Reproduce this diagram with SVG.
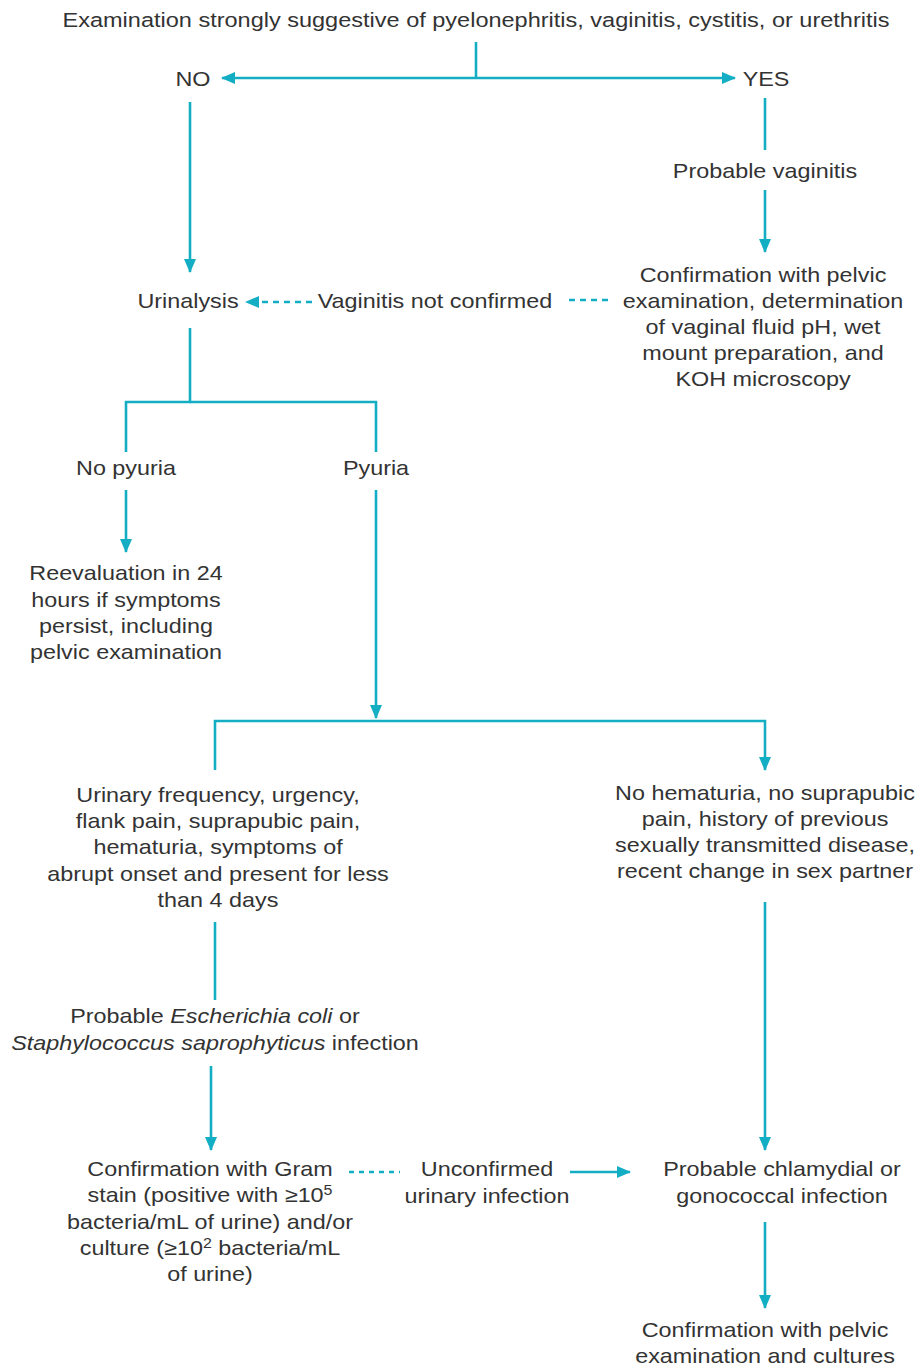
<svg xmlns="http://www.w3.org/2000/svg" width="921" height="1368" viewBox="0 0 921 1368">
<style>
.t{font-family:"Liberation Sans",Arial,Helvetica,sans-serif;font-size:20.5px;fill:#333333;text-anchor:middle}
.c{stroke:#14AEC4;stroke-width:2.6;fill:none}
.d{stroke-dasharray:6 5}
.o{stroke-dasharray:5 5}
</style>
<defs>
<marker id="ah" viewBox="0 0 14 12" refX="13" refY="6" markerWidth="14" markerHeight="12" markerUnits="userSpaceOnUse" orient="auto-start-reverse">
<path d="M0,0 L14,6 L0,12 Z" fill="#14AEC4"/>
</marker>
</defs>
<rect width="921" height="1368" fill="#ffffff"/>
<g id="connectors">
<line class="c" x1="476" y1="42" x2="476" y2="78"/>
<line class="c" x1="222" y1="78" x2="735" y2="78" marker-start="url(#ah)" marker-end="url(#ah)"/>
<line class="c" x1="190" y1="102" x2="190" y2="272" marker-end="url(#ah)"/>
<line class="c" x1="765" y1="98" x2="765" y2="150"/>
<line class="c" x1="765" y1="190" x2="765" y2="252" marker-end="url(#ah)"/>
<line class="c d" x1="608" y1="300" x2="568" y2="300"/>
<line class="c d" x1="312" y1="302" x2="246" y2="302" marker-end="url(#ah)"/>
<polyline class="c" points="190,328 190,402 126,402 126,452"/>
<polyline class="c" points="190,402 376,402 376,452"/>
<line class="c" x1="126" y1="490" x2="126" y2="552" marker-end="url(#ah)"/>
<line class="c" x1="376" y1="490" x2="376" y2="718" marker-end="url(#ah)"/>
<polyline class="c" points="215,770 215,721 765,721 765,770" marker-end="url(#ah)"/>
<line class="c" x1="215" y1="922" x2="215" y2="1000"/>
<line class="c" x1="211" y1="1066" x2="211" y2="1150" marker-end="url(#ah)"/>
<line class="c o" x1="349" y1="1172" x2="400" y2="1172"/>
<line class="c" x1="570" y1="1172" x2="630" y2="1172" marker-end="url(#ah)"/>
<line class="c" x1="765" y1="902" x2="765" y2="1150" marker-end="url(#ah)"/>
<line class="c" x1="765" y1="1222" x2="765" y2="1308" marker-end="url(#ah)"/>
</g>
<g id="title">
<text class="t" x="476" y="27" textLength="827" lengthAdjust="spacingAndGlyphs">Examination strongly suggestive of pyelonephritis, vaginitis, cystitis, or urethritis</text>
</g>
<g id="no" transform="translate(193 0) scale(1.14 1)"><text class="t" x="0" y="86">NO</text></g>
<g id="yes" transform="translate(766 0) scale(1.14 1)"><text class="t" x="0" y="86">YES</text></g>
<g id="probable-vaginitis" transform="translate(765 0) scale(1.14 1)"><text class="t" x="0" y="178">Probable vaginitis</text></g>
<g id="confirm-pelvic" transform="translate(763 0) scale(1.14 1)">
<text class="t" x="0" y="282">Confirmation with pelvic</text>
<text class="t" x="0" y="308">examination, determination</text>
<text class="t" x="0" y="334">of vaginal fluid pH, wet</text>
<text class="t" x="0" y="360">mount preparation, and</text>
<text class="t" x="0" y="386">KOH microscopy</text>
</g>
<g id="not-confirmed" transform="translate(435 0) scale(1.14 1)"><text class="t" x="0" y="308">Vaginitis not confirmed</text></g>
<g id="urinalysis" transform="translate(188 0) scale(1.14 1)"><text class="t" x="0" y="308">Urinalysis</text></g>
<g id="no-pyuria" transform="translate(126 0) scale(1.14 1)"><text class="t" x="0" y="475">No pyuria</text></g>
<g id="pyuria" transform="translate(376 0) scale(1.14 1)"><text class="t" x="0" y="475">Pyuria</text></g>
<g id="reevaluation" transform="translate(126 0) scale(1.14 1)">
<text class="t" x="0" y="580">Reevaluation in 24</text>
<text class="t" x="0" y="607">hours if symptoms</text>
<text class="t" x="0" y="633">persist, including</text>
<text class="t" x="0" y="659">pelvic examination</text>
</g>
<g id="symptoms-uti" transform="translate(218 0) scale(1.14 1)">
<text class="t" x="0" y="802">Urinary frequency, urgency,</text>
<text class="t" x="0" y="828">flank pain, suprapubic pain,</text>
<text class="t" x="0" y="854">hematuria, symptoms of</text>
<text class="t" x="0" y="881">abrupt onset and present for less</text>
<text class="t" x="0" y="907">than 4 days</text>
</g>
<g id="symptoms-std" transform="translate(765 0) scale(1.14 1)">
<text class="t" x="0" y="800">No hematuria, no suprapubic</text>
<text class="t" x="0" y="826">pain, history of previous</text>
<text class="t" x="0" y="852">sexually transmitted disease,</text>
<text class="t" x="0" y="878">recent change in sex partner</text>
</g>
<g id="probable-ecoli" transform="translate(215 0) scale(1.14 1)">
<text class="t" x="0" y="1023">Probable <tspan font-style="italic">Escherichia coli</tspan> or</text>
<text class="t" x="0" y="1050"><tspan font-style="italic">Staphylococcus saprophyticus</tspan> infection</text>
</g>
<g id="confirm-gram" transform="translate(210 0) scale(1.14 1)">
<text class="t" x="0" y="1176">Confirmation with Gram</text>
<text class="t" x="0" y="1202">stain (positive with ≥10<tspan font-size="14" dy="-7">5</tspan></text>
<text class="t" x="0" y="1229">bacteria/mL of urine) and/or</text>
<text class="t" x="0" y="1255">culture (≥10<tspan font-size="14" dy="-7">2</tspan><tspan dy="7"> bacteria/mL</tspan></text>
<text class="t" x="0" y="1281">of urine)</text>
</g>
<g id="unconfirmed" transform="translate(487 0) scale(1.14 1)">
<text class="t" x="0" y="1176">Unconfirmed</text>
<text class="t" x="0" y="1203">urinary infection</text>
</g>
<g id="probable-chlamydial" transform="translate(782 0) scale(1.14 1)">
<text class="t" x="0" y="1176">Probable chlamydial or</text>
<text class="t" x="0" y="1203">gonococcal infection</text>
</g>
<g id="confirm-cultures" transform="translate(765 0) scale(1.14 1)">
<text class="t" x="0" y="1337">Confirmation with pelvic</text>
<text class="t" x="0" y="1363">examination and cultures</text>
</g>
</svg>
